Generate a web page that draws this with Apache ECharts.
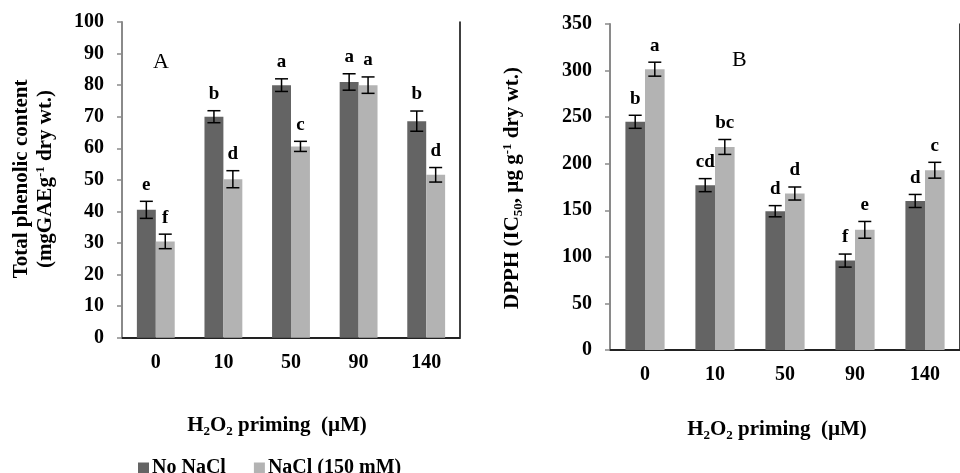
<!DOCTYPE html>
<html><head><meta charset="utf-8">
<script src="https://cdn.jsdelivr.net/npm/echarts@6/dist/echarts.min.js"></script>
<style>html,body{margin:0;padding:0;background:#fff}#c{width:960px;height:473px}</style>
</head><body><div id="c"></div>
<script>
const categories = ['0','10','50','90','140'];
const seriesNames = ['No NaCl','NaCl (150 mM)'];
// Panel A: total phenolic content
const phenolNoNaCl = [40.5, 70, 80, 81, 68.6];
const phenolNoNaClErr = [2.7, 1.9, 2.0, 2.6, 3.2];
const phenolNoNaClLetters = ['e','b','a','a','b'];
const phenolNaCl = [30.5, 50.2, 60.6, 80, 51.6];
const phenolNaClErr = [2.3, 2.7, 1.6, 2.6, 2.3];
const phenolNaClLetters = ['f','d','c','a','d'];
// Panel B: DPPH IC50
const dpphNoNaCl = [245, 177, 149, 96, 160];
const dpphNoNaClErr = [7, 7, 6, 7, 7];
const dpphNoNaClLetters = ['b','cd','d','f','d'];
const dpphNaCl = [301.5, 218, 168, 129, 193];
const dpphNaClErr = [7.5, 8, 7, 9, 8.5];
const dpphNaClLetters = ['a','bc','d','e','c'];
const yTicksA = {min:0, max:100, interval:10};
const yTicksB = {min:0, max:350, interval:50};

const FONT = 'Liberation Serif, Times New Roman, serif';
const DARK = '#646464', LIGHT = '#b3b3b3', AXIS = '#8a8a8a';
const BARW = 0.28;

function errSeries(xi, yi, vals, errs, letters, side){
  return {
    type:'custom', xAxisIndex:xi, yAxisIndex:yi, z:10,
    data: vals.map((v,i)=>[i, v, errs[i], letters[i]]),
    encode:{x:0,y:1},
    renderItem: function(params, api){
      const i = api.value(0), v = api.value(1), e = api.value(2);
      const letter = letters[i];
      const w = api.size([1,0])[0]*BARW;
      const c = api.coord([i, v]);
      const x = c[0] + side*w/2;
      const top = api.coord([i, v+e])[1];
      const bot = api.coord([i, v-e])[1];
      const h = 6.5;
      const st = {stroke:'#000', lineWidth:1.5};
      return {type:'group', children:[
        {type:'line', shape:{x1:x,y1:top,x2:x,y2:bot}, style:st},
        {type:'line', shape:{x1:x-h,y1:top,x2:x+h,y2:top}, style:st},
        {type:'line', shape:{x1:x-h,y1:bot,x2:x+h,y2:bot}, style:st},
        {type:'text', x:x, y:top-7, style:{text:letter, fill:'#000', font:'bold 19px '+FONT, textAlign:'center', textVerticalAlign:'bottom'}}
      ]};
    }
  };
}
function barSeries(name, color, xi, yi, vals){
  return {name:name, type:'bar', xAxisIndex:xi, yAxisIndex:yi, data:vals, barWidth:(BARW*100)+'%', barGap:'0%',
    itemStyle:{color:color}, emphasis:{disabled:true}};
}
function catAxis(gi){
  return {type:'category', gridIndex:gi, data:categories, boundaryGap:true,
    axisLine:{lineStyle:{color:AXIS, width:2}},
    axisTick:{inside:true, length:5, lineStyle:{color:AXIS, width:1.5}},
    axisLabel:{color:'#000', fontFamily:FONT, fontWeight:'bold', fontSize:20, margin:15}};
}
function borderX(gi){
  return {type:'category', gridIndex:gi, data:categories, position:'top',
    axisLine:{lineStyle:{color:'#000', width:1.5}}, axisTick:{show:false}, axisLabel:{show:false}};
}
function valAxis(gi, t){
  return {type:'value', gridIndex:gi, min:t.min, max:t.max, interval:t.interval,
    splitLine:{show:false},
    axisLine:{show:true, lineStyle:{color:AXIS, width:2}},
    axisTick:{show:true, length:5, lineStyle:{color:AXIS, width:1.5}},
    axisLabel:{color:'#000', fontFamily:FONT, fontWeight:'bold', fontSize:20, margin:18}};
}
function borderY(gi, t){
  return {type:'value', gridIndex:gi, min:t.min, max:t.max, interval:t.interval, position:'right',
    splitLine:{show:false}, axisLine:{show:true, lineStyle:{color:'#000', width:1.5}},
    axisTick:{show:false}, axisLabel:{show:false}};
}
const richBase = {
  m:{font:'bold 21px '+FONT, fill:'#000', lineHeight:24},
  sup:{font:'bold 13px '+FONT, verticalAlign:'top', lineHeight:24},
  sub:{font:'bold 13px '+FONT, verticalAlign:'bottom', lineHeight:24}
};
function txt(x,y,text,rot){
  return {type:'text', x:x, y:y, rotation:rot||0, z:20,
    style:{text:text, rich:richBase, font:'bold 21px '+FONT, fill:'#000', textAlign:'center', textVerticalAlign:'middle', lineHeight:24}};
}
const chart = echarts.init(document.getElementById('c'), null, {renderer:'canvas'});
chart.setOption({
  animation:false,
  grid:[{left:122, top:22, width:338, height:315.7},
        {left:610, top:24, width:361.5, height:326}],
  xAxis:[catAxis(0), borderX(0), catAxis(1), borderX(1)],
  yAxis:[valAxis(0,yTicksA), borderY(0,yTicksA), valAxis(1,yTicksB), borderY(1,yTicksB)],
  legend:{data:seriesNames, left:133, top:453, icon:'rect', itemWidth:11, itemHeight:11, itemGap:28,
    textStyle:{fontFamily:FONT, fontWeight:'bold', fontSize:20, color:'#000', padding:[0,0,0,-2]}},
  series:[
    barSeries(seriesNames[0], DARK, 0, 0, phenolNoNaCl),
    barSeries(seriesNames[1], LIGHT, 0, 0, phenolNaCl),
    barSeries(seriesNames[0], DARK, 2, 2, dpphNoNaCl),
    barSeries(seriesNames[1], LIGHT, 2, 2, dpphNaCl),
    errSeries(0,0,phenolNoNaCl,phenolNoNaClErr,phenolNoNaClLetters,-1),
    errSeries(0,0,phenolNaCl,phenolNaClErr,phenolNaClLetters,1),
    errSeries(2,2,dpphNoNaCl,dpphNoNaClErr,dpphNoNaClLetters,-1),
    errSeries(2,2,dpphNaCl,dpphNaClErr,dpphNaClLetters,1)
  ],
  graphic:[
    {type:'text', left:153, top:51, z:20, style:{text:'A', font:'22px '+FONT, fill:'#000'}},
    {type:'text', left:732, top:49, z:20, style:{text:'B', font:'22px '+FONT, fill:'#000'}},
    txt(34, 179, '{m|Total phenolic content}\n{m|(mgGAEg}{sup|-1}{m| dry wt.)}', Math.PI/2),
    txt(513, 188, '{m|DPPH (IC}{sub|50}{m|, µg g}{sup|-1}{m| dry wt.)}', Math.PI/2),
    txt(277, 426, '{m|H}{sub|2}{m|O}{sub|2}{m| priming  (µM)}'),
    txt(777, 430, '{m|H}{sub|2}{m|O}{sub|2}{m| priming  (µM)}')
  ]
});
</script></body></html>
